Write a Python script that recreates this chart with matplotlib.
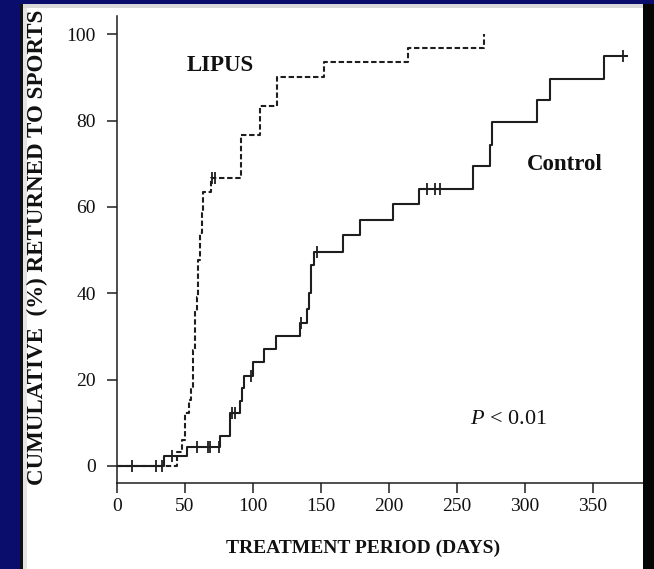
import numpy as np
import matplotlib
matplotlib.use('Agg')
import matplotlib.pyplot as plt
from matplotlib.patches import Rectangle

# ---------------- data ----------------
control_days = [0, 34.5, 52, 76, 83, 90.5, 92, 93.6, 100, 108, 117, 135, 139.7, 141.6,
                143, 145, 166.5, 179, 203, 222, 262, 274.5, 275.7, 308.8, 318.6, 358.3, 375]
control_pct = [0, 2.3, 4.5, 7.0, 12.3, 15.1, 18.0, 20.9, 24.0, 27.1, 30.1, 33.2, 36.3, 40.0,
               46.5, 49.6, 53.4, 57.0, 60.6, 64.1, 69.4, 74.3, 79.6, 84.7, 89.7, 95.0, 95.0]
control_censor_days = [11, 29, 33, 41, 59, 67, 68.6, 75, 84.5, 87, 99, 135.5, 147.5,
                       228, 234, 237.8, 372]

lipus_days = [0, 44, 47.8, 50.5, 53.5, 54.8, 56, 57.6, 58.8, 60, 61.2, 62.5, 63.7, 69,
              91.5, 105, 118, 152.7, 214, 270]
lipus_pct = [0, 3.3, 6.0, 12.2, 15.3, 18.0, 26.9, 36.0, 39.2, 47.7, 54.0, 58.6, 63.5, 66.6,
             76.6, 83.4, 90.0, 93.6, 96.7, 100]
lipus_censor_days = [70, 72]

x_ticks = [0, 50, 100, 150, 200, 250, 300, 350]
y_ticks = [0, 20, 40, 60, 80, 100]

# ---------------- figure ----------------
W, H, DPI = 654, 569, 100
SERIF = 'Liberation Serif'
plt.rcParams['font.family'] = [SERIF, 'DejaVu Serif']
plt.rcParams['mathtext.fontset'] = 'custom'
plt.rcParams['mathtext.it'] = 'Liberation Serif:italic'
plt.rcParams['mathtext.rm'] = 'Liberation Serif'

fig = plt.figure(figsize=(W / DPI, H / DPI), dpi=DPI)
fig.patch.set_facecolor('#0b0d6c')

def px_rect(x0, y0, x1, y1, color, z):
    r = Rectangle((x0 / W, 1 - y1 / H), (x1 - x0) / W, (y1 - y0) / H,
                  transform=fig.transFigure, facecolor=color, edgecolor='none', zorder=z)
    fig.patches.append(r)

# slide panel
px_rect(20, 4, 643, 569, 'white', -5)
px_rect(20, 4, 643, 8, '#d9d9d9', -4)
px_rect(20, 4, 23, 569, '#111111', -4)
px_rect(23, 8, 27, 569, '#e4e4e4', -4)
px_rect(643, 4, 654, 569, '#050505', 20)

ax = fig.add_axes([116.7 / W, (H - 483) / H, 1 - 116.7 / W, (483 - 16) / H])
ax.set_facecolor('none')
ax.set_xlim(0, 395)
ax.set_ylim(-3.94, 104.2)

line_col = '#1e1e1e'

def step_value(days, pct, d):
    idx = np.searchsorted(np.asarray(days), d, side='right') - 1
    return np.asarray(pct)[idx]

ax.step(control_days, control_pct, where='post', color=line_col, lw=1.5)
ax.plot(control_censor_days, step_value(control_days, control_pct, control_censor_days),
        linestyle='none', marker='|', markersize=8, mew=1.3, color=line_col)

ax.step(lipus_days, lipus_pct, where='post', color=line_col, lw=1.5,
        linestyle=(0, (2.6, 1.3)))
ax.plot(lipus_censor_days, step_value(lipus_days, lipus_pct, lipus_censor_days),
        linestyle='none', marker='|', markersize=8, mew=1.3, color=line_col)

for s in ['top', 'right']:
    ax.spines[s].set_visible(False)
for s in ['left', 'bottom']:
    ax.spines[s].set_linewidth(1.1)
    ax.spines[s].set_color(line_col)

ax.set_xticks(x_ticks)
ax.set_yticks(y_ticks)
ax.tick_params(axis='both', direction='out', length=7, width=1.1, color=line_col,
               labelsize=14, labelcolor='#111111')
ax.tick_params(axis='y', pad=8)
ax.tick_params(axis='x', pad=4)

ax.text(76, 92.8, 'LIPUS', fontsize=16.5, fontweight='bold', ha='center', va='center',
        color='#111111')
ax.text(329.6, 69.7, 'Control', fontsize=16.5, fontweight='bold', ha='center', va='center',
        color='#111111')
ax.text(287.7, 10.8, r'$P$ < 0.01', fontsize=16, ha='center', va='center', color='#111111')

fig.text(363 / W, 1 - 548 / H, 'TREATMENT PERIOD (DAYS)', fontsize=14, fontweight='bold',
         ha='center', va='center', color='#111111')
fig.text(37 / W, 1 - 247 / H, 'CUMULATIVE  (%) RETURNED TO SPORTS', fontsize=16.6,
         fontweight='bold', rotation=90, ha='center', va='center', color='#111111')

fig.savefig('out.png', dpi=DPI, facecolor=fig.get_facecolor())
